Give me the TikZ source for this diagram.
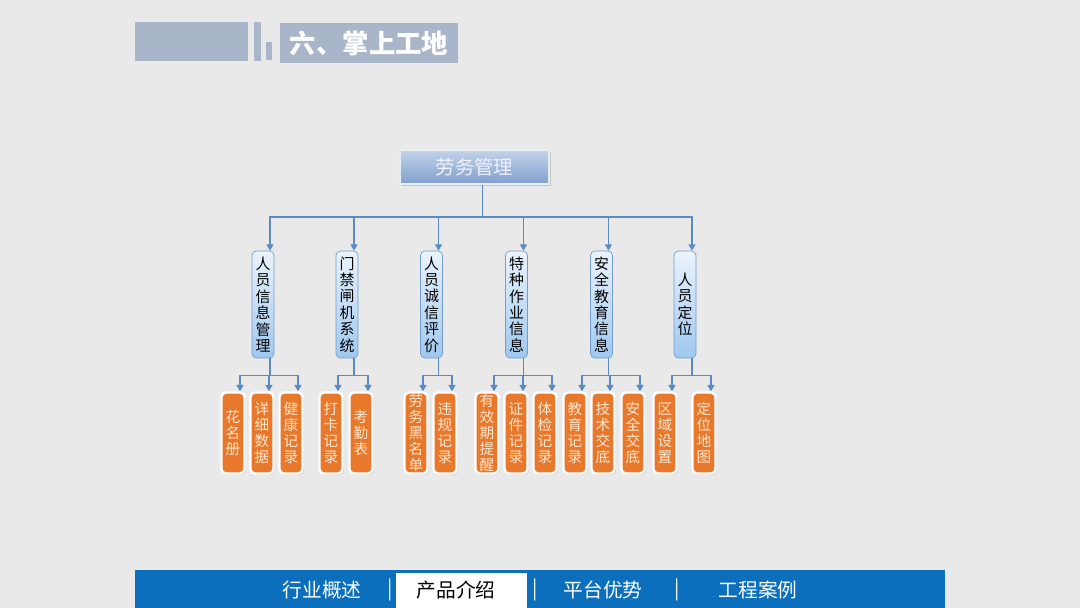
\documentclass[tikz,border=0pt]{standalone}
\usepackage{fontspec}
\setmainfont{Noto Sans CJK SC}
\usepackage{xcolor}
\usetikzlibrary{arrows.meta,calc,shadows}

\definecolor{pagegray}{HTML}{E9E9E9}
\definecolor{headgray}{HTML}{A9B6C9}
\definecolor{linkblue}{HTML}{5B8BC3}
\definecolor{roottop}{HTML}{C3D3E9}
\definecolor{rootbottom}{HTML}{7F9FCD}
\definecolor{grouptop}{HTML}{EAF3FC}
\definecolor{groupbottom}{HTML}{9FC8F0}
\definecolor{leaforange}{HTML}{E8782B}
\definecolor{leaftext}{HTML}{FDE8D2}
\definecolor{barblue}{HTML}{0B6FBD}

\begin{document}
\begin{tikzpicture}[
      x=0.02cm, y=-0.02cm,
      link/.style={draw=linkblue, line width=0.75pt},
      arrow/.style={link, -{Triangle[width=4pt,length=3.6pt]}},
      rootbox/.style={rectangle, draw=white!85!linkblue, line width=1pt,
                  top color=roottop, bottom color=rootbottom,
                  minimum width=2.98cm, minimum height=0.68cm, text=white!94!blue,
                  font=\fontsize{11}{13}\selectfont,
                  drop shadow={opacity=0.35, shadow xshift=1pt, shadow yshift=-1.2pt}},
      groupbox/.style={rectangle, draw=linkblue!85!white, rounded corners=2.5pt,
                  top color=grouptop, bottom color=groupbottom,
                  minimum width=0.44cm, minimum height=2.14cm, inner sep=0.5pt,
                  align=center, font=\fontsize{8.5}{9.35}\selectfont},
      leaf/.style={rectangle, draw=white, line width=1.4pt, rounded corners=2.5pt,
                  fill=leaforange, text=leaftext,
                  minimum width=0.46cm, minimum height=1.62cm, inner sep=0.2pt,
                  align=center, font=\fontsize{8.3}{9.05}\selectfont,
                  drop shadow={opacity=0.3, shadow xshift=0.8pt, shadow yshift=-0.8pt}},
      tab/.style={text=white, font=\fontsize{11.2}{13}\selectfont, inner sep=0pt},
    ]
    % page and header
    \fill[pagegray] (0,0) rectangle (1080,608);
    \fill[headgray] (135,22) rectangle (248,61);
    \fill[headgray] (254,22) rectangle (261,61);
    \fill[headgray] (266,42) rectangle (272,60);
    \node[fill=headgray, minimum width=3.56cm, minimum height=0.8cm, text=white,
          font=\fontsize{15}{17}\selectfont\bfseries] (title) at (369,43) {六、掌上工地};

    % root and second level
    \node[rootbox] (root) at (474.5,167) {劳务管理};

    \node[groupbox] (info)   at (263,304.5)   {人\\员\\信\\息\\管\\理};
    \node[groupbox] (gate)   at (347,304.5)   {门\\禁\\闸\\机\\系\\统};
    \node[groupbox] (credit) at (431.5,304.5) {人\\员\\诚\\信\\评\\价};
    \node[groupbox] (special) at (516.5,304.5) {特\\种\\作\\业\\信\\息};
    \node[groupbox] (safety) at (601.5,304.5) {安\\全\\教\\育\\信\\息};
    \node[groupbox] (locate) at (685,304.5)   {人\\员\\定\\位};

    % leaves
    \node[leaf] (roster)  at (233,433) {花\\名\\册};
    \node[leaf] (detail)  at (262,433) {详\\细\\数\\据};
    \node[leaf] (health)  at (291,433) {健\\康\\记\\录};
    \node[leaf] (punch)   at (331,433) {打\\卡\\记\\录};
    \node[leaf] (attend)  at (361,433) {考\\勤\\表};
    \node[leaf] (black)   at (416,433) {劳\\务\\黑\\名\\单};
    \node[leaf] (breach)  at (445,433) {违\\规\\记\\录};
    \node[leaf] (expiry)  at (487,433) {有\\效\\期\\提\\醒};
    \node[leaf] (cert)    at (516,433) {证\\件\\记\\录};
    \node[leaf] (medical) at (545,433) {体\\检\\记\\录};
    \node[leaf] (edu)     at (575,433) {教\\育\\记\\录};
    \node[leaf] (brief)   at (603,433) {技\\术\\交\\底};
    \node[leaf] (safebr)  at (633,433) {安\\全\\交\\底};
    \node[leaf] (zone)    at (665,433) {区\\域\\设\\置};
    \node[leaf] (map)     at (704,433) {定\\位\\地\\图};

    % connectors root -> groups
    \draw[link] ($(root.south)+(8,0)$) -- ++(0,32) coordinate (bus);
    \draw[arrow] (bus) -| ($(info.north)+(7,0)$);
    \draw[arrow] (bus) -| ($(gate.north)+(7,0)$);
    \draw[arrow] (bus) -| ($(credit.north)+(7,0)$);
    \draw[arrow] (bus) -| ($(special.north)+(7,0)$);
    \draw[arrow] (bus) -| ($(safety.north)+(7,0)$);
    \draw[arrow] (bus) -| ($(locate.north)+(7,0)$);

    % connectors groups -> leaves
    \draw[arrow] ($(info.south)+(7,0)$) -- ++(0,17) -| ($(roster.north)+(7,0)$);
    \draw[arrow] ($(info.south)+(7,0)$) -- ++(0,17) -| ($(detail.north)+(7,0)$);
    \draw[arrow] ($(info.south)+(7,0)$) -- ++(0,17) -| ($(health.north)+(7,0)$);
    \draw[arrow] ($(gate.south)+(7,0)$) -- ++(0,17) -| ($(punch.north)+(7,0)$);
    \draw[arrow] ($(gate.south)+(7,0)$) -- ++(0,17) -| ($(attend.north)+(7,0)$);
    \draw[arrow] ($(credit.south)+(7,0)$) -- ++(0,17) -| ($(black.north)+(7,0)$);
    \draw[arrow] ($(credit.south)+(7,0)$) -- ++(0,17) -| ($(breach.north)+(7,0)$);
    \draw[arrow] ($(special.south)+(7,0)$) -- ++(0,17) -| ($(expiry.north)+(7,0)$);
    \draw[arrow] ($(special.south)+(7,0)$) -- ++(0,17) -| ($(cert.north)+(7,0)$);
    \draw[arrow] ($(special.south)+(7,0)$) -- ++(0,17) -| ($(medical.north)+(7,0)$);
    \draw[arrow] ($(safety.south)+(7,0)$) -- ++(0,17) -| ($(edu.north)+(7,0)$);
    \draw[arrow] ($(safety.south)+(7,0)$) -- ++(0,17) -| ($(brief.north)+(7,0)$);
    \draw[arrow] ($(safety.south)+(7,0)$) -- ++(0,17) -| ($(safebr.north)+(7,0)$);
    \draw[arrow] ($(locate.south)+(7,0)$) -- ++(0,17) -| ($(zone.north)+(7,0)$);
    \draw[arrow] ($(locate.south)+(7,0)$) -- ++(0,17) -| ($(map.north)+(7,0)$);

    % bottom navigation bar
    \fill[barblue] (135,570) rectangle (945,608);
    \fill[white] (396,573) rectangle (527,608);
    \node[tab] (overview) at (322,590) {行业概述};
    \node[tab] (sepa)     at (390,590) {|};
    \node[tab, text=black] (product) at (456,590) {产品介绍};
    \node[tab] (sepb)     at (535,590) {|};
    \node[tab] (platform) at (603,590) {平台优势};
    \node[tab] (sepc)     at (677,590) {|};
    \node[tab] (cases)    at (758,590) {工程案例};
  \end{tikzpicture}
\end{document}
